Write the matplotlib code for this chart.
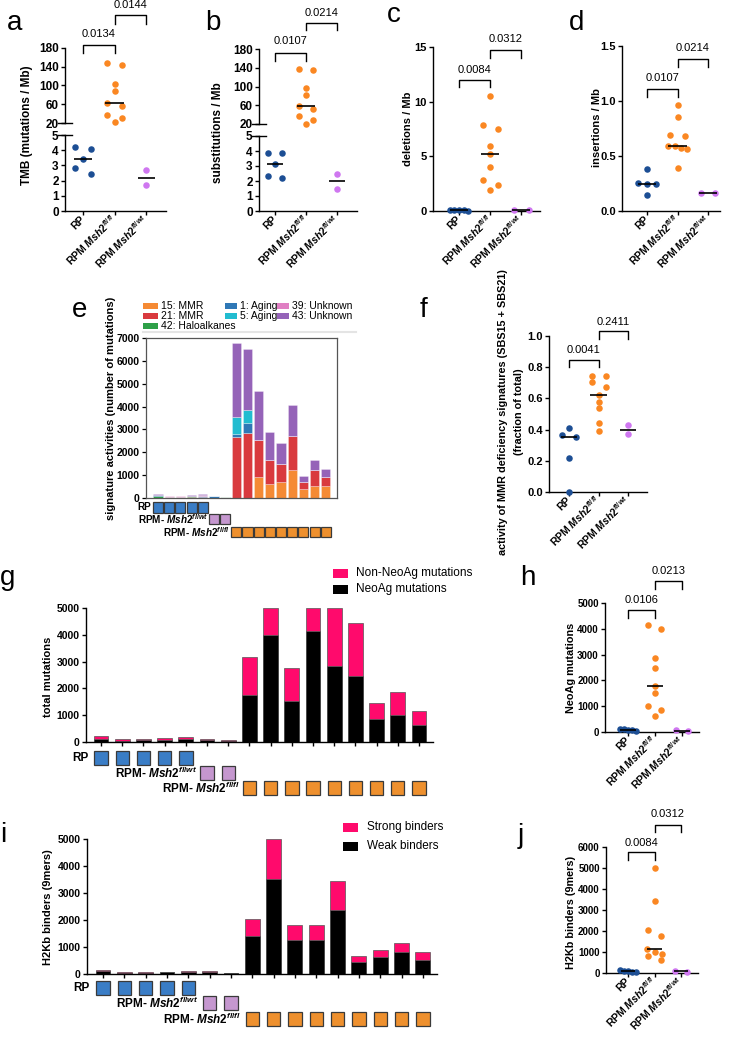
import numpy as np
import matplotlib

matplotlib.use("Agg")
import matplotlib.pyplot as plt
from matplotlib.patches import Rectangle
from matplotlib.transforms import blended_transform_factory

W, H = 730, 1040

# ---- data ----
GROUPS = ["RP", r"RPM $\mathit{Msh2}^{\mathit{fl/fl}}$", r"RPM $\mathit{Msh2}^{\mathit{fl/wt}}$"]

tmb_rp = [4.2, 4.05, 3.45, 2.8, 2.45]
tmb_flfl = [148, 144, 104, 88, 63, 57, 38, 32, 23]
tmb_flwt = [2.7, 1.7]
tmb_p = ["0.0134", "0.0144"]

sub_rp = [3.85, 3.85, 3.15, 2.35, 2.2]
sub_flfl = [138, 136, 96, 82, 58, 51, 37, 28.5, 21]
sub_flwt = [2.5, 1.5]
sub_p = ["0.0107", "0.0214"]

del_rp = [0.05, 0.05, 0.06, 0.05, 0.04]
del_flfl = [10.5, 7.9, 7.5, 5.9, 5.2, 4.05, 2.85, 2.35, 1.95]
del_flwt = [0.05, 0.05]
del_p = ["0.0084", "0.0312"]

ins_rp = [0.38, 0.255, 0.248, 0.245, 0.142]
ins_flfl = [0.963, 0.857, 0.694, 0.682, 0.594, 0.591, 0.576, 0.567, 0.394]
ins_flwt = [0.165, 0.165]
ins_p = ["0.0107", "0.0214"]

mmr_rp = [0.41, 0.365, 0.355, 0.22, 0.0]
mmr_flfl = [0.746, 0.744, 0.707, 0.67, 0.622, 0.579, 0.54, 0.44, 0.39]
mmr_flwt = [0.43, 0.37]
mmr_p = ["0.0041", "0.2411"]

# signature activities, 16 tumours (5 RP, 2 fl/wt, 9 fl/fl)
SIG_NAMES = ["15: MMR", "21: MMR", "42: Haloalkanes", "1: Aging", "5: Aging", "39: Unknown", "43: Unknown"]
sig15 = [0, 0, 0, 0, 0, 0, 0, 0, 0, 920, 630, 700, 1210, 390, 540, 510]
sig21 = [20, 10, 10, 40, 30, 10, 0, 2650, 2840, 1600, 1050, 800, 1500, 300, 700, 420]
sig42 = [70, 20, 15, 30, 20, 10, 40, 0, 0, 0, 0, 0, 0, 0, 0, 0]
sig1 = [20, 15, 40, 20, 20, 50, 10, 130, 440, 0, 0, 0, 0, 0, 0, 0]
sig5 = [0, 0, 0, 0, 0, 0, 0, 760, 580, 0, 0, 0, 0, 0, 0, 0]
sig39 = [10, 40, 10, 10, 40, 10, 0, 0, 0, 0, 0, 0, 0, 0, 0, 0]
sig43 = [50, 15, 25, 40, 60, 20, 10, 3240, 2660, 2140, 1190, 900, 1370, 270, 440, 340]

# neoantigen mutations per tumour
neo_mut = [100, 50, 60, 80, 110, 70, 30, 1770, 3990, 1520, 4150, 2850, 2475, 860, 1010, 620]
nonneo_mut = [115, 70, 70, 80, 90, 60, 60, 1400, 1010, 1250, 850, 2150, 1975, 610, 840, 540]
neo_p = ["0.0106", "0.0213"]

# H2Kb binders per tumour
weak_bind = [120, 40, 40, 60, 80, 70, 30, 1415, 3520, 1250, 1250, 2360, 447, 633, 805, 533]
strong_bind = [20, 20, 20, 30, 30, 30, 20, 632, 1480, 550, 575, 1075, 223, 272, 335, 273]
h2kb_flfl = [5000, 3430, 2043, 1771, 1133, 1022, 894, 798, 638]
h2kb_p = ["0.0084", "0.0312"]

RP_IDX = list(range(0, 5))
WT_IDX = list(range(5, 7))
FL_IDX = list(range(7, 16))

# ---- style ----
C_RP, C_FL, C_WT = "#1C4E94", "#FA8722", "#CF77F0"
SIG_COLORS = ["#F58A34", "#D93A3E", "#2EA048", "#2F78B6", "#22BCD0", "#E07FC3", "#9563B8"]
SQ_RP, SQ_WT, SQ_FL = "#3A7DC6", "#C597CF", "#EE902E"
PINK = "#FF0A6C"

plt.rcParams.update({
    "font.family": ["Liberation Sans", "DejaVu Sans"],
    "font.weight": "bold",
    "mathtext.fontset": "custom",
    "mathtext.rm": "Liberation Sans:bold",
    "mathtext.it": "Liberation Sans:italic:bold",
    "mathtext.bf": "Liberation Sans:bold",
    "axes.linewidth": 1.0,
})

fig = plt.figure(figsize=(W / 100, H / 100), dpi=100)


def px_axes(l, t, r, b):
    return fig.add_axes([l / W, 1 - b / H, (r - l) / W, (b - t) / H])


def swarm(vals, px_per_unit, dot=6.0, step=0.48, maxw=0.6):
    """Prism-like horizontal spread: points closer than a dot are centred in a row."""
    vals = np.asarray(vals, float)
    order = np.argsort(-vals, kind="stable")
    offs = np.zeros(len(vals))
    i = 0
    while i < len(order):
        j = i
        while j + 1 < len(order) and (vals[order[i]] - vals[order[j + 1]]) * px_per_unit < dot:
            j += 1
        n = j - i + 1
        st = min(step, maxw / (n - 1)) if n > 1 else 0
        for k in range(n):
            offs[order[i + k]] = (k - (n - 1) / 2) * st
        i = j + 1
    return offs


def dots(ax, x, vals, color, px_per_unit, med_w=0.3):
    offs = swarm(vals, px_per_unit)
    ax.scatter(x + offs, vals, s=22, color=color, lw=0, zorder=3, clip_on=False)
    ax.plot([x - med_w, x + med_w], [np.median(vals)] * 2, color="k", lw=1.2, zorder=4,
            solid_capstyle="butt")


def bracket(ax, x1, x2, ybot, ytop, ytext, text):
    ax.plot([x1, x1, x2, x2], [ybot, ytop, ytop, ybot], color="k", lw=1.0, clip_on=False)
    ax.text((x1 + x2) / 2, ytext, text, ha="center", va="center", fontsize=8,
            fontweight="normal")


def style_axes(ax, yticks, fmt, xlim, xlabels=True, size=8):
    ax.set_xlim(*xlim)
    ax.set_yticks(yticks)
    ax.set_yticklabels([fmt.format(v) for v in yticks])
    ax.spines[["top", "right"]].set_visible(False)
    ax.tick_params(length=3, width=1, labelsize=size, pad=1.5)
    if xlabels:
        ax.set_xticks(range(3))
        ax.set_xticklabels(GROUPS, rotation=45, ha="right", va="center",
                           rotation_mode="anchor", fontsize=7.5)


def ylabel(x, y, text, size=8):
    fig.text(x / W, 1 - y / H, text, rotation=90, ha="center", va="center", fontsize=size)


def letter(x, y, s):
    fig.text(x / W, 1 - y / H, s, fontsize=20, fontweight="normal", va="baseline")


def broken_panel(l, r, tu, bu, tl, bl, xlim, rp, fl, wt, pv, brk):
    axu = px_axes(l, tu, r, bu)
    axl = px_axes(l, tl, r, bl)
    axu.set_ylim(20, 180)
    axl.set_ylim(0, 5)
    style_axes(axu, [20, 60, 100, 140, 180], "{:.0f}", xlim, xlabels=False, size=8.5)
    axu.spines["bottom"].set_visible(False)
    axu.set_xticks([])
    style_axes(axl, [0, 1, 2, 3, 4, 5], "{:.0f}", xlim, size=8.5)
    w = r - l
    axu.plot([-7 / w, 7 / w], [0, 0], transform=axu.transAxes, color="k", lw=1, clip_on=False)
    axl.plot([-7 / w, 7 / w], [1, 1], transform=axl.transAxes, color="k", lw=1, clip_on=False)
    dots(axu, 1, fl, C_FL, (bu - tu) / 160)
    dots(axl, 0, rp, C_RP, (bl - tl) / 5, med_w=0.27)
    dots(axl, 2, wt, C_WT, (bl - tl) / 5, med_w=0.27)
    bracket(axu, 0, 1, *brk[0], pv[0])
    bracket(axu, 1, 2, *brk[1], pv[1])
    return axu, axl


def simple_panel(l, t, r, b, ylim, yticks, fmt, xlim, groups, pv, brk, med_w=0.3, size=8):
    ax = px_axes(l, t, r, b)
    ax.set_ylim(*ylim)
    style_axes(ax, yticks, fmt, xlim, size=size)
    ppu = (b - t) / (ylim[1] - ylim[0])
    for i, (vals, c) in enumerate(zip(groups, [C_RP, C_FL, C_WT])):
        dots(ax, i, vals, c, ppu, med_w=med_w)
    bracket(ax, 0, 1, *brk[0], pv[0])
    bracket(ax, 1, 2, *brk[1], pv[1])
    return ax


def group_boxes(ax, rows, w, h, size=8):
    trans = blended_transform_factory(ax.transData, ax.transAxes)
    for label, idx, color, yc, lx in rows:
        for k in idx:
            ax.add_patch(Rectangle((k - w / 2, yc - h / 2), w, h, transform=trans, clip_on=False,
                                   fc=color, ec="#3a3a3a", lw=0.9))
        ax.text(lx, yc, label, transform=trans, ha="right", va="center", fontsize=size)


def px_legend(entries, x, y0, dy, pw, ph, tx, size):
    for k, (label, color) in enumerate(entries):
        yc = y0 + k * dy
        fig.patches.append(Rectangle((x / W, 1 - (yc + ph / 2) / H), pw / W, ph / H,
                                     transform=fig.transFigure, fc=color, ec="none"))
        fig.text(tx / W, 1 - yc / H, label, ha="left", va="center", fontsize=size,
                 fontweight="normal")


# ---- a / b: broken-axis dot plots ----
broken_panel(65, 166, 47.7, 123.3, 135, 211, (-0.57, 2.63), tmb_rp, tmb_flfl, tmb_flwt, tmb_p,
             [(168, 186, 208), (231, 249, 270)])
ylabel(27, 125, "TMB (mutations / Mb)", size=8.5)
letter(7, 30, "a")

broken_panel(259, 357, 49, 124, 136, 211, (-0.52, 2.65), sub_rp, sub_flfl, sub_flwt, sub_p,
             [(155, 171, 196), (220, 236, 257)])
ylabel(218, 133, "substitutions / Mb", size=8.5)
letter(205, 30, "b")

# ---- c / d ----
simple_panel(433, 47, 540, 211, (0, 15), [0, 5, 10, 15], "{:.0f}", (-0.84, 2.61),
             [del_rp, del_flfl, del_flwt], del_p, [(11.3, 11.95, 12.9), (14.0, 14.7, 15.7)])
ylabel(408, 129, "deletions / Mb")
letter(387, 22, "c")

simple_panel(622, 46, 720, 211, (0, 1.5), [0, 0.5, 1.0, 1.5], "{:.1f}", (-0.82, 2.39),
             [ins_rp, ins_flfl, ins_flwt], ins_p, [(1.036, 1.11, 1.21), (1.31, 1.385, 1.48)])
ylabel(597, 128, "insertions / Mb")
letter(569, 30, "d")

# ---- e: signature activities ----
axe = px_axes(146, 338, 337, 498)
x16 = np.arange(16)
bottom = np.zeros(16)
for vals, col in zip([sig15, sig21, sig42, sig1, sig5, sig39, sig43], SIG_COLORS):
    axe.bar(x16, vals, bottom=bottom, width=0.82, color=col, edgecolor=(1, 1, 1, 0.5), lw=0.4)
    bottom += np.asarray(vals)
axe.set_xlim(-1.07, 16.0)
axe.set_ylim(0, 7000)
axe.set_xticks([])
axe.set_yticks(range(0, 7001, 1000))
for s in axe.spines.values():
    s.set_color("#555555")
    s.set_linewidth(0.9)
axe.tick_params(length=3, width=0.9, labelsize=7.5, pad=1.5)
group_boxes(axe, [("RP", RP_IDX, SQ_RP, -0.058, -0.6),
                  (r"RPM- $\mathit{Msh2}^{\mathit{fl/wt}}$", WT_IDX, SQ_WT, -0.132, 4.5),
                  (r"RPM- $\mathit{Msh2}^{\mathit{fl/fl}}$", FL_IDX, SQ_FL, -0.212, 6.43)],
            0.9, 0.066, size=7.2)
ylabel(111, 408, "signature activities (number of mutations)")
letter(72, 317, "e")
px_legend(list(zip(SIG_NAMES[:3], SIG_COLORS[:3])), 143, 306, 9.8, 15, 6, 161, 7.5)
px_legend(list(zip(SIG_NAMES[3:5], SIG_COLORS[3:5])), 225, 306, 9.8, 12, 6, 240, 7.5)
px_legend(list(zip(SIG_NAMES[5:], SIG_COLORS[5:])), 277, 306, 9.8, 12, 6, 292, 7.5)
fig.lines.append(plt.Line2D([143 / W, 356 / W], [1 - 332 / H] * 2, transform=fig.transFigure,
                            color="#e4e4e4", lw=1.5))

# ---- f ----
simple_panel(549, 336, 647, 492, (0, 1.0), [0, 0.2, 0.4, 0.6, 0.8, 1.0], "{:.1f}", (-0.68, 2.64),
             [mmr_rp, mmr_flfl, mmr_flwt], mmr_p, [(0.80, 0.846, 0.91), (0.98, 1.03, 1.09)],
             med_w=0.28)
ylabel(503, 412, "activity of MMR deficiency signatures (SBS15 + SBS21)", size=7.8)
ylabel(519, 412, "(fraction of total)", size=7.8)
letter(420, 317, "f")


# ---- g / i: stacked bars with group boxes ----
def stacked_panel(l, t, r, b, xlim, lower, upper, ytitle, yl_pos, rows_y, label_x):
    ax = px_axes(l, t, r, b)
    ax.bar(x16, lower, width=0.7, color="black", edgecolor="#333333", lw=0.5)
    ax.bar(x16, upper, bottom=lower, width=0.7, color=PINK, edgecolor="#555555", lw=0.5)
    ax.set_xlim(*xlim)
    ax.set_ylim(0, 5000)
    ax.set_yticks(range(0, 5001, 1000))
    ax.set_xticks(x16)
    ax.set_xticklabels([])
    ax.spines[["top", "right"]].set_visible(False)
    ax.tick_params(length=3, width=1, labelsize=7.5, pad=1.5)
    group_boxes(ax, [("RP", RP_IDX, SQ_RP, rows_y[0], label_x[0]),
                     (r"RPM- $\mathit{Msh2}^{\mathit{fl/wt}}$", WT_IDX, SQ_WT, rows_y[1], label_x[1]),
                     (r"RPM- $\mathit{Msh2}^{\mathit{fl/fl}}$", FL_IDX, SQ_FL, rows_y[2], label_x[2])],
                0.63, 14 / (b - t), size=8.5)
    ylabel(yl_pos[0], yl_pos[1], ytitle)
    return ax


stacked_panel(86, 608, 433, 742, (-0.71, 15.66), neo_mut, nonneo_mut, "total mutations", (48, 677),
              (-0.119, -0.231, -0.343), (-0.6, 4.53, 6.56))
px_legend([("Non-NeoAg mutations", PINK), ("NeoAg mutations", "black")], 333, 573, 16, 15, 9, 356, 8.5)
letter(0, 585, "g")

stacked_panel(87, 839, 437, 974, (-0.75, 15.66), weak_bind, strong_bind, "H2Kb binders (9mers)",
              (48, 907), (-0.104, -0.215, -0.333), (-0.61, 4.45, 6.47))
px_legend([("Strong binders", PINK), ("Weak binders", "black")], 343, 827, 19, 15, 9, 367, 8.5)
letter(0, 842, "i")

# ---- h / j ----
neo = np.asarray(neo_mut)
simple_panel(605, 603, 699, 732, (0, 5000), list(range(0, 5001, 1000)), "{:.0f}", (-0.85, 2.63),
             [neo[RP_IDX], neo[FL_IDX], neo[WT_IDX]], neo_p,
             [(4415, 4740, 5130), (5545, 5840, 6230)], med_w=0.28, size=7)
ylabel(571, 668, "NeoAg mutations", size=7.8)
letter(520, 585, "h")

tot_bind = np.asarray(weak_bind) + np.asarray(strong_bind)
simple_panel(606, 847, 698, 973, (0, 6000), list(range(0, 6001, 1000)), "{:.0f}", (-0.83, 2.64),
             [tot_bind[RP_IDX], h2kb_flfl, tot_bind[WT_IDX]], h2kb_p,
             [(5360, 5760, 6190), (6700, 7070, 7550)], med_w=0.28, size=7)
ylabel(571, 912, "H2Kb binders (9mers)", size=7.8)
letter(518, 843, "j")

fig.savefig("out.png", dpi=100, facecolor="white")
